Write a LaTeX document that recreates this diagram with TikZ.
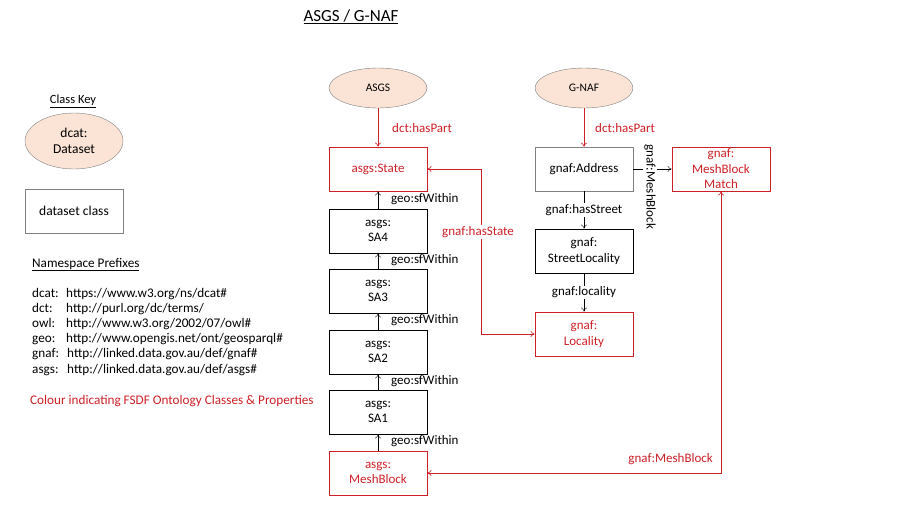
\documentclass[tikz,border=0pt]{standalone}
\usepackage{fontspec}
\setmainfont{Carlito}
\usetikzlibrary{shapes.geometric,arrows.meta}
\definecolor{fred}{RGB}{204,32,38}
\definecolor{peach}{RGB}{251,228,213}
\definecolor{gborder}{RGB}{128,128,128}
\tikzset{
  dsell/.style={ellipse,draw=gborder,fill=peach,minimum width=98pt,minimum height=40pt,inner sep=0pt,font=\fontsize{11.5}{13}\selectfont},
  cls/.style={rectangle,draw=black,thick,minimum width=98pt,minimum height=44pt,inner sep=1pt,align=center,font=\fontsize{13}{15.5}\selectfont},
  fcls/.style={cls,draw=fred,text=fred},
  gcls/.style={cls,draw=gborder,semithick},
  arr/.style={-{To[length=4pt,width=6pt]},black},
  farr/.style={-{To[length=4pt,width=6pt]},fred,semithick},
  lbl/.style={font=\fontsize{13}{15}\selectfont,inner sep=1pt},
  flbl/.style={lbl,text=fred},
  keytxt/.style={font=\fontsize{13.2}{15}\selectfont,inner sep=0pt,anchor=base west},
}
\begin{document}
\begin{tikzpicture}[x=1pt,y=-1pt]
\useasboundingbox (0,0) rectangle (900,506);
% title
\node (title) at (351,17) {\fontsize{17}{19}\selectfont\underline{ASGS / G-NAF}};
% key
\node[font=\fontsize{12.5}{14}\selectfont,inner sep=0pt] (ck) at (73,101) {\underline{Class Key}};
\node[dsell,minimum height=56pt,font=\fontsize{13.5}{16}\selectfont,align=center] (keyds) at (74,141) {dcat:\\Dataset};
\node[gcls,thin,font=\fontsize{13.5}{16}\selectfont] (keycls) at (74,211) {dataset class};
\node[keytxt] (np) at (32,267) {\underline{Namespace Prefixes}};
\node[keytxt] (pre1) at (32,297) {dcat:};
\node[keytxt] (url1) at (66,297) {https://www.w3.org/ns/dcat\#};
\node[keytxt] (pre2) at (32,312) {dct:};
\node[keytxt] (url2) at (66,312) {http://purl.org/dc/terms/};
\node[keytxt] (pre3) at (32,327) {owl:};
\node[keytxt] (url3) at (66,327) {http://www.w3.org/2002/07/owl\#};
\node[keytxt] (pre4) at (32,342) {geo:};
\node[keytxt] (url4) at (66,342) {http://www.opengis.net/ont/geosparql\#};
\node[keytxt] (pre5) at (32,357) {gnaf:};
\node[keytxt] (url5) at (67,357) {http://linked.data.gov.au/def/gnaf\#};
\node[keytxt] (pre6) at (32,373) {asgs:};
\node[keytxt] (url6) at (67,373) {http://linked.data.gov.au/def/asgs\#};
\node[keytxt,text=fred] (colour) at (30,404) {Colour indicating FSDF Ontology Classes \& Properties};
% datasets
\node[dsell] (asgs) at (378,88) {ASGS};
\node[dsell] (gnaf) at (584,88) {G-NAF};
% ASGS chain
\node[fcls] (state) at (378,169) {asgs:State};
\node[cls] (sa4) at (378,231) {asgs:\\SA4};
\node[cls] (sa3) at (378,291) {asgs:\\SA3};
\node[cls] (sa2) at (378,352) {asgs:\\SA2};
\node[cls] (sa1) at (378,412) {asgs:\\SA1};
\node[fcls] (mb) at (378,473) {asgs:\\MeshBlock};
% GNAF chain
\node[gcls] (addr) at (584,169) {gnaf:Address};
\node[cls] (sl) at (584,251) {gnaf:\\StreetLocality};
\node[fcls] (loc) at (584,334) {gnaf:\\Locality};
\node[fcls] (match) at (721,169) {gnaf:\\MeshBlock\\Match};
% hasPart
\draw[farr] (asgs) -- (state);
\node[flbl,anchor=west] (hp1) at (391,128) {dct:hasPart};
\draw[farr] (gnaf) -- (addr);
\node[flbl,anchor=west] (hp2) at (594,128) {dct:hasPart};
% sfWithin
\draw[arr] (sa4) -- (state);
\draw[arr] (sa3) -- (sa4);
\draw[arr] (sa2) -- (sa3);
\draw[arr] (sa1) -- (sa2);
\draw[arr] (mb) -- (sa1);
\node[lbl,anchor=west] (sfw1) at (390,199) {geo:sfWithin};
\node[lbl,anchor=west] (sfw2) at (390,260) {geo:sfWithin};
\node[lbl,anchor=west] (sfw3) at (390,320) {geo:sfWithin};
\node[lbl,anchor=west] (sfw4) at (390,381) {geo:sfWithin};
\node[lbl,anchor=west] (sfw5) at (390,441) {geo:sfWithin};
% gnaf chain
\draw[arr] (addr) -- node[lbl,fill=white] (hs) {gnaf:hasStreet} (sl);
\draw[arr] (sl) -- node[lbl,fill=white] (gl) {gnaf:locality} (loc);
\draw[arr] (addr) -- (match);
\node[lbl,fill=white,rotate=-90] (gmb) at (650,187) {gnaf:MeshBlock};
% hasState
\coordinate (hsc) at (481,169);
\draw[fred,semithick,{To[length=4pt,width=6pt]}-{To[length=4pt,width=6pt]}] (state.east) -- (hsc) |- (loc.west);
\node[flbl,fill=white] (hst) at (478,232) {gnaf:hasState};
% meshblock link
\draw[fred,semithick,{To[length=4pt,width=6pt]}-{To[length=4pt,width=6pt]}] (mb.east) -| (match.south);
\node[flbl,anchor=east] (gmb2) at (714,459) {gnaf:MeshBlock};
\end{tikzpicture}
\end{document}
